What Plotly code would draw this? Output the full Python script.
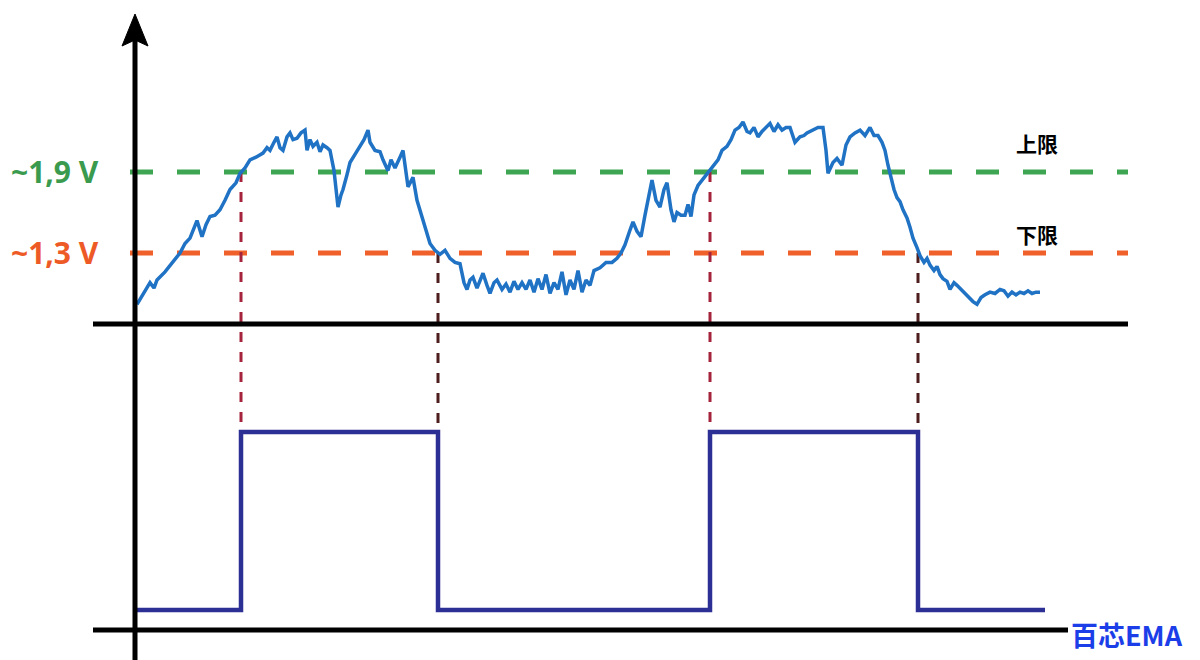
import plotly.graph_objects as go

# ---------------- data ----------------
# noisy input signal: time (arbitrary units) and voltage (V)
sig_t = [0, 6, 13, 17, 20, 28, 35, 43, 48, 53, 60, 65, 69, 73, 78, 83, 88, 93, 99, 103,
         108, 113, 119, 126, 130, 133, 137, 140, 143, 146, 150, 153, 156, 160, 164, 168, 170, 173, 176, 180,
         183, 186, 190, 193, 197, 201, 204, 206, 210, 213, 218, 223, 227, 231, 233, 238, 243, 246, 251, 254,
         258, 263, 266, 271, 276, 280, 283, 286, 290, 293, 298, 303, 308, 313, 318, 323, 327, 330, 333, 336,
         340, 343, 346, 350, 353, 357, 360, 365, 369, 373, 377, 381, 385, 389, 393, 397, 401, 405, 409, 413,
         417, 421, 425, 429, 433, 437, 441, 445, 449, 453, 457, 463, 469, 475, 480, 484, 488, 493, 496, 500,
         504, 508, 512, 515, 519, 523, 527, 530, 534, 537, 540, 544, 548, 551, 554, 557, 561, 565, 569, 573,
         577, 581, 585, 590, 594, 598, 602, 606, 610, 613, 617, 621, 625, 629, 633, 637, 641, 645, 649, 653,
         658, 663, 667, 670, 675, 681, 686, 689, 691, 696, 700, 705, 709, 713, 718, 723, 728, 733, 737, 741,
         745, 748, 751, 754, 757, 760, 763, 766, 770, 773, 776, 780, 783, 787, 790, 793, 797, 800, 803, 806,
         810, 813, 817, 820, 824, 828, 832, 836, 840, 844, 848, 853, 858, 863, 867, 871, 875, 879, 883, 887,
         891, 895, 899, 903]
sig_v = [0.92, 1.00, 1.08, 1.04, 1.10, 1.16, 1.23, 1.30, 1.37, 1.41, 1.54, 1.42, 1.51, 1.57, 1.58, 1.62, 1.69, 1.77, 1.82, 1.89,
         1.93, 1.99, 2.01, 2.04, 2.08, 2.06, 2.12, 2.16, 2.08, 2.06, 2.16, 2.19, 2.14, 2.15, 2.19, 2.21, 2.06, 2.14, 2.09, 2.12,
         2.05, 2.10, 2.08, 2.06, 1.91, 1.64, 1.73, 1.77, 1.88, 1.97, 2.03, 2.09, 2.14, 2.21, 2.12, 2.06, 2.05, 1.99, 1.91, 1.99,
         1.93, 2.01, 2.06, 1.79, 1.86, 1.69, 1.62, 1.54, 1.46, 1.37, 1.32, 1.29, 1.32, 1.26, 1.23, 1.22, 1.08, 1.03, 1.10, 1.12,
         1.04, 1.09, 1.15, 1.06, 1.00, 1.08, 1.10, 1.03, 1.07, 1.01, 1.09, 1.03, 1.08, 1.03, 1.10, 1.01, 1.11, 1.03, 1.14, 1.00,
         1.08, 1.03, 1.16, 0.99, 1.10, 1.03, 1.17, 1.01, 1.10, 1.06, 1.17, 1.19, 1.23, 1.23, 1.26, 1.30, 1.36, 1.47, 1.53, 1.46,
         1.42, 1.58, 1.73, 1.84, 1.69, 1.64, 1.77, 1.82, 1.62, 1.53, 1.60, 1.58, 1.58, 1.66, 1.57, 1.73, 1.80, 1.84, 1.88, 1.91,
         1.95, 1.99, 2.06, 2.09, 2.14, 2.21, 2.23, 2.27, 2.20, 2.19, 2.23, 2.16, 2.20, 2.23, 2.26, 2.20, 2.25, 2.21, 2.23, 2.23,
         2.12, 2.16, 2.17, 2.19, 2.21, 2.23, 2.23, 2.06, 1.89, 1.97, 2.00, 1.95, 2.10, 2.16, 2.19, 2.21, 2.17, 2.23, 2.17, 2.17,
         2.12, 2.06, 1.95, 1.86, 1.77, 1.71, 1.68, 1.62, 1.56, 1.49, 1.41, 1.34, 1.28, 1.23, 1.26, 1.21, 1.17, 1.20, 1.14, 1.11,
         1.09, 1.03, 1.08, 1.06, 1.03, 1.00, 0.97, 0.94, 0.92, 0.97, 0.99, 1.01, 1.00, 1.03, 1.02, 0.98, 1.01, 0.99, 1.01, 1.00,
         1.02, 1.00, 1.01, 1.01]

# thresholds (V)
upper_v = 1.9
lower_v = 1.3
thr_t = [-7, 991]

# Schmitt-trigger output: switching times and levels
out_t = [0, 104, 301, 573, 781, 908]
out_lv = [0, 1, 0, 1, 0, 0]

# switching events: time, threshold crossed
sw_t = [104, 301, 573, 781]
sw_v = [1.9, 1.3, 1.9, 1.3]
sw_col = ["#a5233d", "#4e1d1d", "#a5233d", "#4e1d1d"]

labels_v = ["~1,9 V", "~1,3 V"]
labels_zh = ["上限", "下限"]

# ---------------- axes geometry ----------------
X_RANGE = [-137, 1063]
Y_RANGE = [-1.715, 3.174]
Y2_RANGE = [-0.281, 3.427]


def y2_to_y(v2):
    f = (v2 - Y2_RANGE[0]) / (Y2_RANGE[1] - Y2_RANGE[0])
    return Y_RANGE[0] + f * (Y_RANGE[1] - Y_RANGE[0])


W, H = 1200, 660


def px(x):
    return x / W


def py(y):
    return 1 - y / H


fig = go.Figure()

# threshold lines
fig.add_trace(go.Scatter(x=thr_t, y=[upper_v, upper_v], mode="lines",
                         line=dict(color="#3ea552", width=5, dash="23px,24px"),
                         hoverinfo="skip"))
fig.add_trace(go.Scatter(x=thr_t, y=[lower_v, lower_v], mode="lines",
                         line=dict(color="#f0602a", width=5, dash="23px,24px"),
                         hoverinfo="skip"))

# vertical dotted switching lines
for t, v, c in zip(sw_t, sw_v, sw_col):
    fig.add_trace(go.Scatter(x=[t, t], y=[v, y2_to_y(1)], mode="lines",
                             line=dict(color=c, width=3, dash="10px,10px"),
                             hoverinfo="skip"))

# input signal
fig.add_trace(go.Scatter(x=sig_t, y=sig_v, mode="lines",
                         line=dict(color="#1f72c4", width=3.5), hoverinfo="skip"))

# output square wave
fig.add_trace(go.Scatter(x=out_t, y=out_lv, mode="lines", yaxis="y2",
                         line=dict(color="#2c2f94", width=4.5, shape="hv"),
                         hoverinfo="skip"))

# axes decorations (black lines and arrow)
shapes = [
    dict(type="line", xref="paper", yref="paper", x0=px(135), x1=px(135), y0=py(40), y1=py(662),
         line=dict(color="black", width=5)),
    dict(type="path", xref="paper", yref="paper",
         path=f"M {px(135)},{py(14)} L {px(148)},{py(46)} L {px(135)},{py(40)} L {px(122)},{py(46)} Z",
         fillcolor="black", line=dict(color="black", width=1)),
    dict(type="line", xref="paper", yref="paper", x0=px(93), x1=px(1128), y0=py(324), y1=py(324),
         line=dict(color="black", width=5)),
    dict(type="line", xref="paper", yref="paper", x0=px(93), x1=px(1068), y0=py(630), y1=py(630),
         line=dict(color="black", width=5)),
]

annotations = [
    dict(x=px(101), y=upper_v, xref="paper", yref="y", text=labels_v[0], showarrow=False,
         xanchor="right", yanchor="middle",
         font=dict(family="Open Sans", size=30, color="#3a9a4e", weight="bold")),
    dict(x=px(101), y=lower_v, xref="paper", yref="y", text=labels_v[1], showarrow=False,
         xanchor="right", yanchor="middle",
         font=dict(family="Open Sans", size=30, color="#ee5a26", weight="bold")),
    dict(x=px(1037), y=py(143), xref="paper", yref="paper", text=labels_zh[0], showarrow=False,
         xanchor="center", yanchor="middle",
         font=dict(family="Noto Sans CJK SC", size=21, color="black", weight="bold")),
    dict(x=px(1037), y=py(234), xref="paper", yref="paper", text=labels_zh[1], showarrow=False,
         xanchor="center", yanchor="middle",
         font=dict(family="Noto Sans CJK SC", size=21, color="black", weight="bold")),
    dict(x=px(1127), y=py(634), xref="paper", yref="paper", text="百芯EMA", showarrow=False,
         xanchor="center", yanchor="middle",
         font=dict(family="Noto Sans CJK SC", size=27, color="#1c3ee8", weight="bold")),
]

fig.update_layout(
    width=W, height=H,
    margin=dict(l=0, r=0, t=0, b=0),
    paper_bgcolor="white", plot_bgcolor="white",
    showlegend=False,
    xaxis=dict(range=X_RANGE, visible=False, fixedrange=True),
    yaxis=dict(range=Y_RANGE, visible=False, fixedrange=True),
    yaxis2=dict(range=Y2_RANGE, visible=False, overlaying="y", fixedrange=True),
    shapes=shapes,
    annotations=annotations,
)

fig.write_html("out.html", config={"displayModeBar": False},
               post_script="document.body.style.margin='0';document.body.style.overflow='hidden';")
